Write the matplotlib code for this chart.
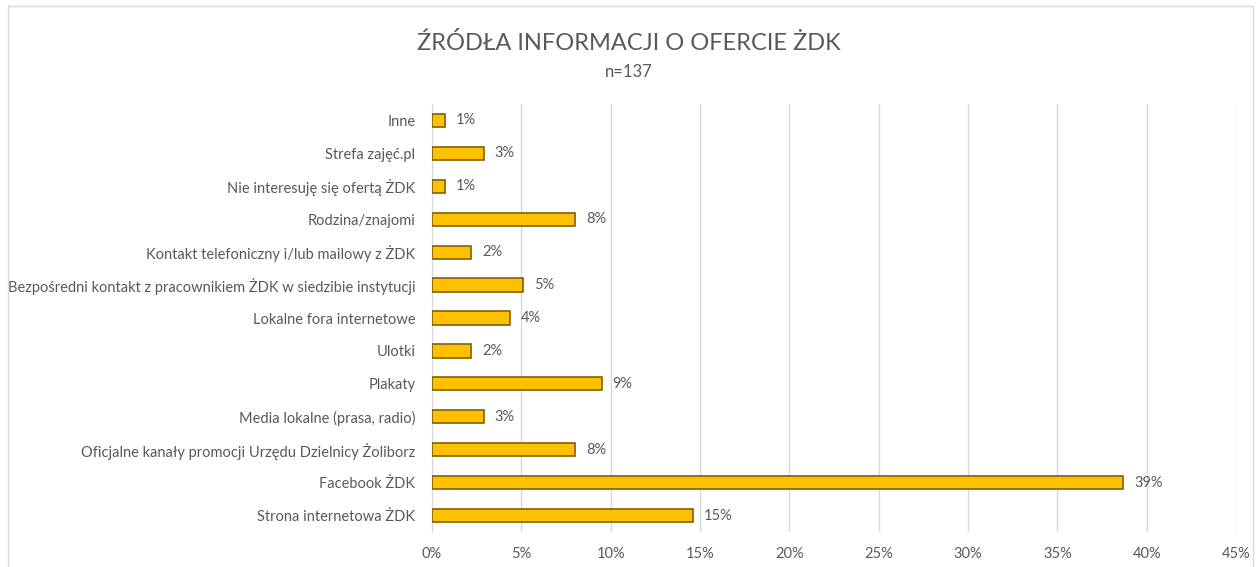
import matplotlib.pyplot as plt
from matplotlib.patches import Rectangle
from matplotlib.ticker import PercentFormatter

plt.rcParams['font.family'] = ['Lato', 'DejaVu Sans']

# Data (top to bottom as in chart)
categories = [
    'Inne',
    'Strefa zajęć.pl',
    'Nie interesuję się ofertą ŻDK',
    'Rodzina/znajomi',
    'Kontakt telefoniczny i/lub mailowy z ŻDK',
    'Bezpośredni kontakt z pracownikiem ŻDK w siedzibie instytucji',
    'Lokalne fora internetowe',
    'Ulotki',
    'Plakaty',
    'Media lokalne (prasa, radio)',
    'Oficjalne kanały promocji Urzędu Dzielnicy Żoliborz',
    'Facebook ŻDK',
    'Strona internetowa ŻDK',
]
values = [0.73, 2.92, 0.73, 8.03, 2.19, 5.11, 4.38, 2.19, 9.49, 2.92, 8.03, 38.69, 14.60]
labels = ['1%', '3%', '1%', '8%', '2%', '5%', '4%', '2%', '9%', '3%', '8%', '39%', '15%']

text_col = '#595959'

fig = plt.figure(figsize=(12.57, 5.67), dpi=100)
ax = fig.add_axes([0.3437, 0.0617, 0.6396, 0.7549])

pos = list(range(len(categories)))[::-1]
ax.barh(pos, values, height=0.4, color='#FFC000', edgecolor='#7F6000', linewidth=1.2, zorder=3)

for p, v, lab in zip(pos, values, labels):
    ax.text(v + 0.6, p, lab, va='center', ha='left', fontsize=10.5, color=text_col)

ax.set_xlim(0, 45)
ax.set_ylim(-0.5, len(categories) - 0.5)
ax.set_xticks(range(0, 46, 5))
ax.xaxis.set_major_formatter(PercentFormatter(decimals=0))
ax.set_yticks(pos)
ax.set_yticklabels(categories)
ax.tick_params(axis='both', length=0, colors=text_col, labelsize=10.5)
ax.tick_params(axis='x', pad=11)
ax.tick_params(axis='y', pad=12)
ax.grid(axis='x', color='#D9D9D9', linewidth=1, zorder=0)
for s in ['top', 'right', 'bottom']:
    ax.spines[s].set_visible(False)
ax.spines['left'].set_color('#D9D9D9')

fig.text(0.5, 0.924, 'ŹRÓDŁA INFORMACJI O OFERCIE ŻDK', ha='center', va='center',
         fontsize=17, color=text_col)
fig.text(0.5, 0.873, 'n=137', ha='center', va='center', fontsize=12, color=text_col)

fig.patches.append(Rectangle((0.006, -0.01), 0.991, 1.0, transform=fig.transFigure,
                             fill=False, edgecolor='#D9D9D9', linewidth=1))

fig.savefig('out.png', dpi=100)
